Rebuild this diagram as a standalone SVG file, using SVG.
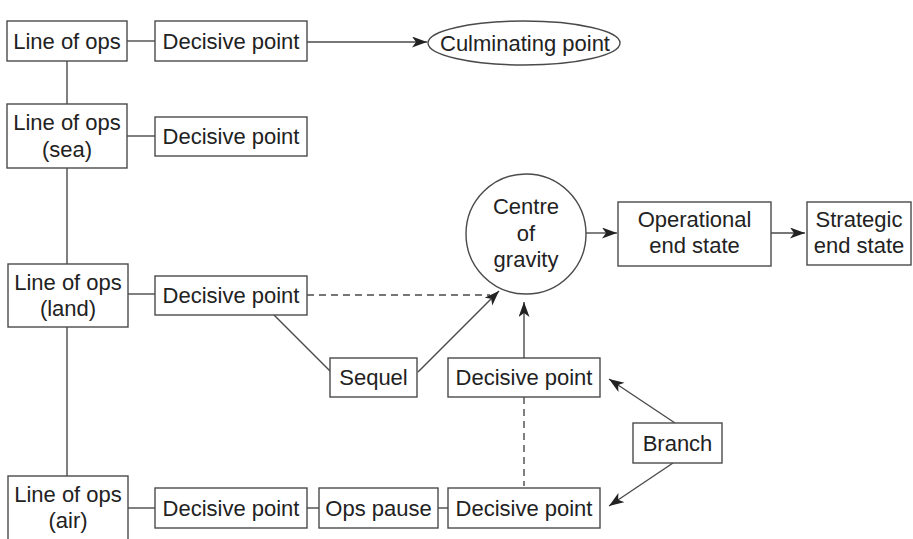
<svg xmlns="http://www.w3.org/2000/svg" width="913" height="539" viewBox="0 0 913 539">
<defs>
<style>
.box{fill:#fff;stroke:#4a4a4a;stroke-width:1.4}
.t{font-family:"Liberation Sans",Arial,sans-serif;font-size:22px;fill:#222;text-anchor:middle}
.ln{stroke:#4a4a4a;stroke-width:1.4;fill:none}
.dash{stroke-dasharray:7 5}
.arr{marker-end:url(#ah)}
</style>
<marker id="ah" markerUnits="userSpaceOnUse" markerWidth="16" markerHeight="12" refX="15" refY="5.5" orient="auto">
<path d="M0,0 L15,5.5 L0,11 L4,5.5 z" fill="#222"/>
</marker>
</defs>
<rect width="913" height="539" fill="#fff"/>
<g id="connectors">
<line class="ln" x1="67" y1="61" x2="67" y2="104"/>
<line class="ln" x1="67" y1="168" x2="67" y2="264"/>
<line class="ln" x1="67" y1="327" x2="67" y2="476"/>
<line class="ln" x1="127" y1="41" x2="155" y2="41"/>
<line class="ln arr" x1="307" y1="42" x2="427" y2="42"/>
<line class="ln" x1="127" y1="136" x2="155" y2="136"/>
<line class="ln" x1="128" y1="294" x2="155" y2="294"/>
<line class="ln dash" x1="307" y1="295" x2="490" y2="295"/>
<line class="ln" x1="274" y1="315" x2="330" y2="371"/>
<line class="ln arr" x1="418" y1="372" x2="499" y2="291"/>
<line class="ln arr" x1="524" y1="358" x2="524" y2="302"/>
<line class="ln arr" x1="586" y1="233" x2="617" y2="233"/>
<line class="ln arr" x1="771" y1="233" x2="805" y2="233"/>
<line class="ln dash" x1="524" y1="397" x2="524" y2="486"/>
<line class="ln arr" x1="675" y1="423" x2="609" y2="379"/>
<line class="ln arr" x1="673" y1="463" x2="609" y2="506"/>
<line class="ln" x1="128" y1="508" x2="155" y2="508"/>
<line class="ln" x1="307" y1="508" x2="319" y2="508"/>
<line class="ln" x1="438" y1="508" x2="448" y2="508"/>
</g>
<g id="lo1"><rect class="box" x="7" y="21" width="120" height="40"/><text class="t" x="67" y="49">Line of ops</text></g>
<g id="dp1"><rect class="box" x="155" y="21" width="152" height="40"/><text class="t" x="231" y="49">Decisive point</text></g>
<g id="cp"><ellipse class="box" cx="524" cy="43" rx="96" ry="22"/><text class="t" x="525" y="51">Culminating point</text></g>
<g id="lo2"><rect class="box" x="7" y="104" width="120" height="64"/><text class="t" x="67" y="130">Line of ops</text><text class="t" x="67" y="157">(sea)</text></g>
<g id="dp2"><rect class="box" x="155" y="117" width="152" height="39"/><text class="t" x="231" y="144">Decisive point</text></g>
<g id="cog"><circle class="box" cx="526" cy="234" r="60"/><text class="t" x="526" y="214">Centre</text><text class="t" x="526" y="241">of</text><text class="t" x="526" y="267">gravity</text></g>
<g id="oes"><rect class="box" x="618" y="202" width="153" height="64"/><text class="t" x="694.5" y="227">Operational</text><text class="t" x="694.5" y="253">end state</text></g>
<g id="ses"><rect class="box" x="807" y="202" width="104" height="63"/><text class="t" x="859" y="227">Strategic</text><text class="t" x="859" y="253">end state</text></g>
<g id="lo3"><rect class="box" x="8" y="264" width="120" height="63"/><text class="t" x="68" y="290">Line of ops</text><text class="t" x="68" y="316">(land)</text></g>
<g id="dp3"><rect class="box" x="155" y="276" width="152" height="39"/><text class="t" x="231" y="303">Decisive point</text></g>
<g id="sequel"><rect class="box" x="330" y="358" width="87" height="39"/><text class="t" x="373.5" y="385">Sequel</text></g>
<g id="dp_mid"><rect class="box" x="448" y="358" width="152" height="39"/><text class="t" x="524" y="385">Decisive point</text></g>
<g id="branch"><rect class="box" x="633" y="423" width="89" height="40"/><text class="t" x="677.5" y="451">Branch</text></g>
<g id="lo4"><rect class="box" x="8" y="476" width="120" height="70"/><text class="t" x="68" y="502">Line of ops</text><text class="t" x="68" y="528">(air)</text></g>
<g id="dp4"><rect class="box" x="155" y="488" width="152" height="40"/><text class="t" x="231" y="516">Decisive point</text></g>
<g id="pause"><rect class="box" x="319" y="488" width="119" height="40"/><text class="t" x="378.5" y="516">Ops pause</text></g>
<g id="dp5"><rect class="box" x="448" y="488" width="152" height="40"/><text class="t" x="524" y="516">Decisive point</text></g>
</svg>
